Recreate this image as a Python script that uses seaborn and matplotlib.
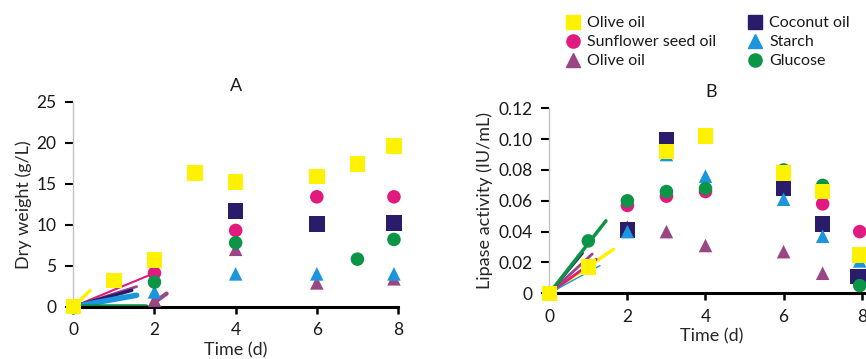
import matplotlib
matplotlib.use('Agg')
import matplotlib.pyplot as plt
import seaborn as sns
from matplotlib.lines import Line2D

# ---------- data ----------
# panel A: dry weight (g/L)
A_OLIVE_X = [0, 1, 2, 3, 4, 6, 7, 7.9]
A_OLIVE_Y = [0, 3.2, 5.7, 16.3, 15.2, 15.9, 17.4, 19.6]
A_SUNF_X = [2, 4, 6, 7.9]
A_SUNF_Y = [4.1, 9.3, 13.4, 13.4]
A_OLIVE2_X = [2, 4, 6, 7.9]
A_OLIVE2_Y = [0.8, 7.0, 2.9, 3.4]
A_COCO_X = [4, 6, 7.9]
A_COCO_Y = [11.7, 10.1, 10.2]
A_STARCH_X = [2, 4, 6, 7.9]
A_STARCH_Y = [1.8, 4.0, 4.0, 4.0]
A_GLUC_X = [2, 4, 7, 7.9]
A_GLUC_Y = [3.0, 7.8, 5.8, 8.2]

# panel B: lipase activity (IU/mL)
B_OLIVE_X = [0, 1, 3, 4, 6, 7, 7.95]
B_OLIVE_Y = [0, 0.017, 0.092, 0.102, 0.078, 0.066, 0.025]
B_SUNF_X = [2, 3, 4, 6, 7, 7.95]
B_SUNF_Y = [0.057, 0.063, 0.066, 0.076, 0.058, 0.040]
B_OLIVE2_X = [2, 3, 4, 6, 7]
B_OLIVE2_Y = [0.043, 0.040, 0.031, 0.027, 0.013]
B_COCO_X = [2, 3, 6, 7, 7.9]
B_COCO_Y = [0.041, 0.0995, 0.068, 0.045, 0.011]
B_STARCH_X = [2, 3, 4, 6, 7, 7.95]
B_STARCH_Y = [0.040, 0.090, 0.076, 0.061, 0.037, 0.021]
B_GLUC_X = [1, 2, 3, 4, 6, 7, 7.95]
B_GLUC_Y = [0.034, 0.060, 0.066, 0.068, 0.080, 0.070, 0.005]

# short trend stubs starting at the origin (end points)
A_STUB_X = [0.41, 2.0, 1.56, 1.44, 1.56, 1.8]
A_STUB_Y = [1.95, 4.1, 2.45, 2.0, 1.4, 0.0]
B_STUB_X = [1.64, 1.2, 1.1, 0.85, 1.3, 1.45]
B_STUB_Y = [0.0285, 0.022, 0.0255, 0.026, 0.018, 0.047]
# extra purple stub near day 2 in panel A
A_PURPLE_STUB_X = [1.95, 2.3]
A_PURPLE_STUB_Y = [0.35, 1.6]

LABELS = ['Olive oil', 'Sunflower seed oil', 'Olive oil', 'Coconut oil', 'Starch', 'Glucose']
COLORS = ['#FFF200', '#E2197E', '#9A4584', '#2A1B6B', '#1B95DD', '#0C9447']
MARKERS = ['s', 'o', '^', 's', '^', 'o']
SIZES = [125, 95, 95, 125, 95, 95]
A_STUB_W = [2.5, 1.5, 2.0, 2.5, 4.0, 4.0]
B_STUB_W = [2.5, 2.0, 2.0, 2.0, 1.0, 2.5]

A_SERIES = [(A_OLIVE_X, A_OLIVE_Y), (A_SUNF_X, A_SUNF_Y), (A_OLIVE2_X, A_OLIVE2_Y),
            (A_COCO_X, A_COCO_Y), (A_STARCH_X, A_STARCH_Y), (A_GLUC_X, A_GLUC_Y)]
B_SERIES = [(B_OLIVE_X, B_OLIVE_Y), (B_SUNF_X, B_SUNF_Y), (B_OLIVE2_X, B_OLIVE2_Y),
            (B_COCO_X, B_COCO_Y), (B_STARCH_X, B_STARCH_Y), (B_GLUC_X, B_GLUC_Y)]

# draw order (yellow olive last so it sits on the origin)
ORDER = [1, 2, 3, 4, 5, 0]

sns.set_style('white')
plt.rcParams['font.family'] = ['Lato', 'DejaVu Sans']
plt.rcParams['text.color'] = '#1a1a1a'

fig = plt.figure(figsize=(8.66, 3.59), dpi=100)
axA = fig.add_axes([73.3 / 866, 1 - 306.7 / 359, 324.7 / 866, 205 / 359])
axB = fig.add_axes([549.3 / 866, 1 - 293.3 / 359, 8.3 * 39.05 / 866, 185 / 359])


def style_axes(ax):
    sns.despine(ax=ax)
    ax.spines['left'].set_color('#c4c4c4')
    ax.spines['left'].set_linewidth(1.0)
    ax.spines['bottom'].set_color('black')
    ax.spines['bottom'].set_linewidth(2.2)
    ax.tick_params(axis='y', direction='out', length=6, width=1.5, color='black',
                   labelsize=12.5, left=True, pad=6, labelcolor='#1a1a1a')
    ax.tick_params(axis='x', direction='out', length=5, width=1.8, color='black',
                   labelsize=12.5, bottom=True, pad=6, labelcolor='#1a1a1a')
    ax.set_facecolor('none')


# stubs
for i in range(6):
    sns.lineplot(x=[0, A_STUB_X[i]], y=[0, A_STUB_Y[i]], color=COLORS[i],
                 linewidth=A_STUB_W[i], ax=axA, legend=False, zorder=2)
    sns.lineplot(x=[0, B_STUB_X[i]], y=[0, B_STUB_Y[i]], color=COLORS[i],
                 linewidth=B_STUB_W[i], ax=axB, legend=False, zorder=2)
sns.lineplot(x=A_PURPLE_STUB_X, y=A_PURPLE_STUB_Y, color=COLORS[2], linewidth=3,
             ax=axA, legend=False, zorder=2)

for i in ORDER:
    for ax, series in ((axA, A_SERIES), (axB, B_SERIES)):
        xs, ys = series[i]
        sns.scatterplot(x=xs, y=ys, marker=MARKERS[i], color=COLORS[i], s=SIZES[i],
                        edgecolor='none', linewidth=0, ax=ax, clip_on=False,
                        zorder=3 + ORDER.index(i), legend=False)

# panel A
axA.set_xlim(0, 8)
axA.set_ylim(0, 25)
axA.set_xticks([0, 2, 4, 6, 8])
axA.set_yticks([0, 5, 10, 15, 20, 25])
style_axes(axA)
axA.set_xlabel('Time (d)', fontsize=13, labelpad=3)
axA.set_ylabel('Dry weight (g/L)', fontsize=13, labelpad=3)
axA.set_title('A', fontsize=13, pad=8)

# panel B
axB.set_xlim(0, 8.3)
axB.set_ylim(0, 0.12)
axB.set_xticks([0, 2, 4, 6, 8])
B_YTICKS = [0, 0.02, 0.04, 0.06, 0.08, 0.10, 0.12]
B_YLABELS = ['0', '0.02', '0.04', '0.06', '0.08', '0.10', '0.12']
axB.set_yticks(B_YTICKS)
axB.set_yticklabels(B_YLABELS)
style_axes(axB)
axB.set_xlabel('Time (d)', fontsize=13, labelpad=3)
axB.set_ylabel('Lipase activity (IU/mL)', fontsize=13, labelpad=4)
axB.set_title('B', fontsize=13, pad=8)

# legend
handles = [Line2D([], [], linestyle='none', marker=MARKERS[i], color=COLORS[i],
                  markersize=10 if MARKERS[i] == 's' else 9.5) for i in range(6)]
fig.legend(handles, LABELS, ncol=2, loc='upper left', bbox_to_anchor=(565 / 866, 1 - 16 / 359),
           frameon=False, fontsize=11.5, handletextpad=0.4, labelspacing=0.3,
           columnspacing=1.9, handlelength=1.0, borderaxespad=0, borderpad=0)

fig.savefig('out.png', dpi=100)
